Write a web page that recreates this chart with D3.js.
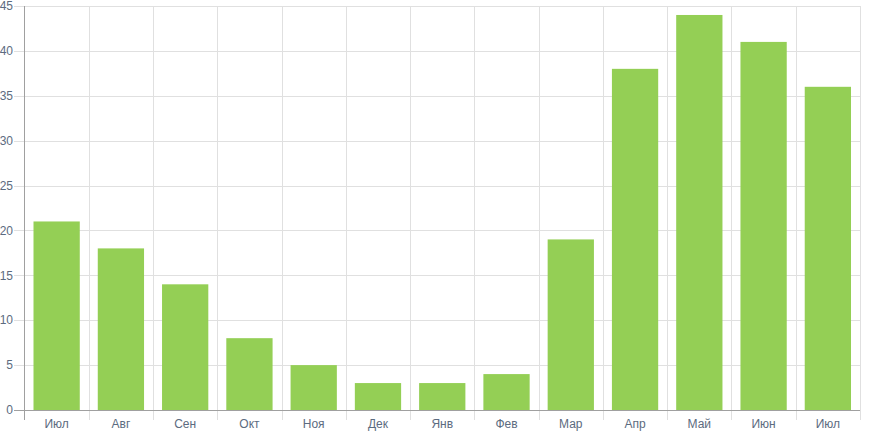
<!DOCTYPE html>
<html><head><meta charset="utf-8">
<script src="https://cdn.jsdelivr.net/npm/d3@7"></script>
<style>
html,body{margin:0;padding:0;background:#fff;}
svg{display:block;font-family:"Liberation Sans",Arial,sans-serif;}
</style></head><body>
<svg id="c" width="876" height="438"></svg>
<script>
const categories = ["Июл","Авг","Сен","Окт","Ноя","Дек","Янв","Фев","Мар","Апр","Май","Июн","Июл"];
const values = [21, 18, 14, 8, 5, 3, 3, 4, 19, 38, 44, 41, 36];
const yTicks = [0, 5, 10, 15, 20, 25, 30, 35, 40, 45];

(function () {
const svg = d3.select("#c");
const pLeft = 24.5, pRight = 860, pTop = 6, pBottom = 410;
const keys = categories.map((c, i) => i);
const x = d3.scaleBand().domain(keys).range([pLeft, pRight]).paddingInner(0.28).paddingOuter(0.14);
const xb = d3.scaleLinear().domain([0, categories.length]).range([pLeft, pRight]);
const y = d3.scaleLinear().domain([0, 45]).range([pBottom, pTop]);

svg.append("g").selectAll("line").data(yTicks).join("line")
  .attr("x1", 14).attr("x2", pRight)
  .attr("y1", d => Math.round(y(d)) + 0.5).attr("y2", d => Math.round(y(d)) + 0.5)
  .attr("stroke", "#e0e0e0").attr("stroke-width", 1);

const bounds = d3.range(1, categories.length + 1);
svg.append("g").selectAll("line").data(bounds).join("line")
  .attr("x1", d => Math.round(xb(d)) + 0.5).attr("x2", d => Math.round(xb(d)) + 0.5)
  .attr("y1", pTop).attr("y2", pBottom + 10)
  .attr("stroke", "#e0e0e0").attr("stroke-width", 1);

svg.append("g").selectAll("rect").data(values).join("rect")
  .attr("x", (d, i) => x(i)).attr("width", x.bandwidth())
  .attr("y", d => y(d)).attr("height", d => pBottom - y(d))
  .attr("fill", "#94cf55");

svg.append("line").attr("x1", 24.5).attr("x2", 24.5).attr("y1", pTop).attr("y2", pBottom + 10)
  .attr("stroke", "#a0a0a0");
svg.append("line").attr("x1", 14).attr("x2", pRight).attr("y1", pBottom + 0.5).attr("y2", pBottom + 0.5)
  .attr("stroke", "#a0a0a0");

svg.append("g").selectAll("text").data(yTicks).join("text")
  .attr("x", 13).attr("y", d => y(d)).attr("dy", "0.35em")
  .attr("text-anchor", "end").attr("font-size", 12).attr("fill", "#5c6b80")
  .text(d => d);

svg.append("g").selectAll("text").data(categories).join("text")
  .attr("x", (d, i) => x(i) + x.bandwidth() / 2).attr("y", 428)
  .attr("text-anchor", "middle").attr("font-size", 12).attr("fill", "#5c6b80")
  .text(d => d);
})();
</script>
</body></html>
